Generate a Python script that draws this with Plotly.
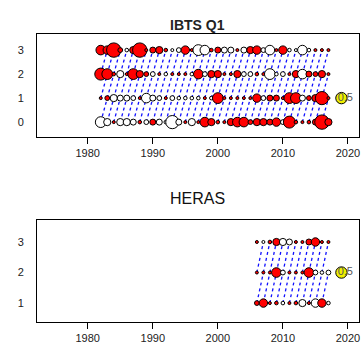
import plotly.graph_objects as go

# ---------------- data ----------------
ibts_years = list(range(1982, 2018))
ibts_ages = [0, 1, 2, 3]
ibts_res = {
    3: [0.8, 0.7, 1.2, 0.4, -0.3, 0.6, 1.2, 0.1, 0.5, 0.6, 0.3, -0.1, -0.4, 0.7, 0.1, -0.9, -0.8, 0.3,
        0.5, -0.5, -0.5, 0.1, -0.5, 0.6, 0.7, -0.4, -0.8, 0.1, 0.7, -0.3, -0.1, -0.8, -0.3, 0.1, 0.1, 0.1],
    2: [1.0, 0.9, 0.3, -0.6, 0.1, 0.9, 0.6, 0.4, -0.4, 0.1, -0.3, 0.1, 0.1, 0.1, -0.3, 0.8, -0.4, 0.6,
        0.6, 0.1, 0.1, 0.6, -0.4, -0.4, 0.3, 0.1, -0.9, -0.3, -0.4, 0.1, 0.6, -0.8, 0.5, 0.4, 0.6, 0.1],
    1: [0.15, 0.4, -0.6, -0.5, -0.5, -0.4, 0.1, -0.8, -0.5, -0.4, 0.1, -0.4, -0.3, -0.3, -0.3, -0.3, 0.1, -0.3,
        0.9, 0.1, 0.1, 0.1, 0.1, 0.1, 0.7, -0.4, 0.5, 0.5, 0.1, 0.9, 0.9, -0.5, 0.4, 0.6, 1.1, 0.15],
    0: [-0.9, -0.6, 0.1, -0.6, -0.6, -0.5, 0.3, -0.4, 0.5, -0.5, -0.3, -1.1, -0.5, 0.1, -0.6, 0.1, 0.8, 0.6,
        0.3, 0.1, 0.6, 0.8, 0.8, 0.4, 0.6, 0.6, 0.5, 0.7, -0.4, 1.0, 0.3, 0.1, 0.3, 0.5, 1.2, 0.6],
}

heras_years = list(range(2006, 2018))
heras_ages = [1, 2, 3]
heras_res = {
    3: [0.1, -0.2, 0.3, 0.6, -0.6, -0.5, 0.1, 0.1, 0.5, 0.7, 0.2, 0.1],
    2: [0.05, 0.1, 0.2, 0.8, -0.4, 0.1, 0.2, 0.1, 0.8, -0.4, -0.3, -0.4],
    1: [0.4, 0.7, 0.1, 0.3, -0.3, 0.1, 0.3, -0.6, 0.1, -0.7, 0.7, -0.3],
}

legend_year = 2019
legend_text_year = 2019.6
legend_value = 0.95
legend_label = "0.5"
x_ticks = [1980, 1990, 2000, 2010, 2020]
panel_titles = ["IBTS Q1", "HERAS"]

SCALE = 12.0
MINSIZE = 3

fig = go.Figure()


def add_panel(years, ages, res, xa, ya, legend_age):
    # cohort lines
    lx, ly = [], []
    for a in ages[:-1]:
        for y in years[:-1]:
            lx += [y, y + 1, None]
            ly += [a, a + 1, None]
    fig.add_trace(go.Scatter(x=lx, y=ly, mode="lines", xaxis=xa, yaxis=ya,
                             line=dict(color="#1010ff", width=1.3, dash="3px,3px"),
                             hoverinfo="skip", showlegend=False))
    px, py, sz, col = [], [], [], []
    for a in ages:
        for y, r in zip(years, res[a]):
            px.append(y)
            py.append(a)
            sz.append(max(MINSIZE, SCALE * abs(r)))
            col.append("#ff0000" if r > 0 else "#ffffff")
    fig.add_trace(go.Scatter(x=px, y=py, mode="markers", xaxis=xa, yaxis=ya,
                             marker=dict(size=sz, color=col, sizemode="diameter", opacity=1,
                                         line=dict(color="black", width=1)),
                             showlegend=False))
    fig.add_trace(go.Scatter(x=[legend_year], y=[legend_age], mode="markers", xaxis=xa, yaxis=ya,
                             marker=dict(size=SCALE * legend_value, color="#f0f000", opacity=1,
                                         line=dict(color="black", width=1)),
                             showlegend=False))
    fig.add_trace(go.Scatter(x=[legend_text_year], y=[legend_age], mode="text", xaxis=xa, yaxis=ya,
                             text=[legend_label], textposition="middle center",
                             textfont=dict(family="Liberation Sans, Arial", size=11, color="#555"),
                             showlegend=False))


add_panel(ibts_years, ibts_ages, ibts_res, "x", "y", 1)
add_panel(heras_years, heras_ages, heras_res, "x2", "y2", 2)

xdom = [37 / 363, 359 / 363]
axis_font = dict(family="Liberation Sans, Arial", size=11, color="#222")
common_x = dict(range=[1972.2, 2021.7], tickvals=x_ticks, ticks="outside", ticklen=6,
                tickcolor="black", showline=True, linecolor="black", linewidth=1, mirror=True,
                showgrid=False, zeroline=False, tickfont=axis_font, domain=xdom)
common_y = dict(showline=True, linecolor="black", linewidth=1, mirror=True, showgrid=False,
                zeroline=False, ticks="", tickfont=axis_font, ticklabelstandoff=10)

fig.update_layout(
    width=363, height=356, margin=dict(l=0, r=0, t=0, b=0),
    paper_bgcolor="white", plot_bgcolor="white",
    xaxis=dict(**common_x, anchor="y"),
    yaxis=dict(**common_y, range=[-0.62, 3.67], tickvals=[0, 1, 2, 3],
               domain=[1 - 137 / 356, 1 - 34 / 356], anchor="x"),
    xaxis2=dict(**common_x, anchor="y2"),
    yaxis2=dict(**common_y, range=[0.38, 3.72], tickvals=[1, 2, 3],
                domain=[1 - 322 / 356, 1 - 220 / 356], anchor="x2"),
    annotations=[
        dict(text="<b>" + panel_titles[0] + "</b>", x=198 / 363, y=1 - 15 / 356, xref="paper", yref="paper",
             showarrow=False, font=dict(family="Liberation Sans, Arial", size=14, color="#222")),
        dict(text=panel_titles[1], x=198 / 363, y=1 - 198 / 356, xref="paper", yref="paper",
             showarrow=False, font=dict(family="Liberation Sans, Arial", size=16, color="#111")),
    ],
)

fig.write_html("out.html")
